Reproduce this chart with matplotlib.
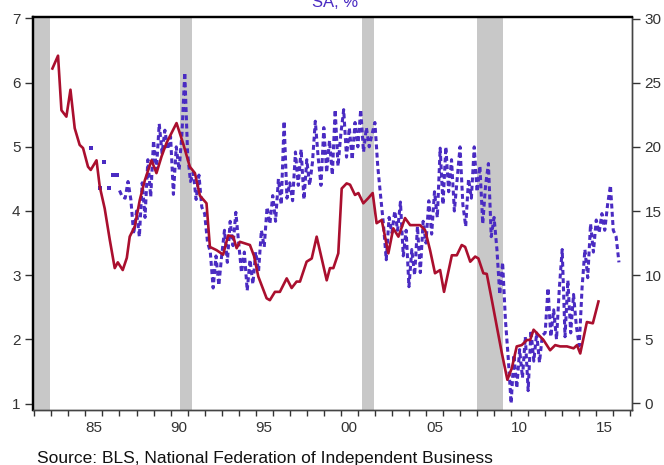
import matplotlib.pyplot as plt
import numpy as np

plt.rcParams['font.family'] = ['Liberation Sans', 'DejaVu Sans']

# recessions (decimal years)
recessions = [(1981.5, 1982.92), (1990.58, 1991.25), (2001.25, 2001.92), (2008.0, 2009.5)]

# BLS series, left axis
red_t = [1983.06, 1983.39, 1983.59, 1983.88, 1984.12, 1984.37, 1984.66, 1984.86,
         1985.15, 1985.31, 1985.65, 1985.84, 1986.13, 1986.43, 1986.72, 1986.90,
         1987.19, 1987.43, 1987.60, 1987.90, 1988.19, 1988.49, 1988.88, 1989.17,
         1989.47, 1989.76, 1990.35, 1990.74, 1991.13, 1991.43, 1991.72, 1992.11,
         1992.31, 1992.70, 1993.09, 1993.38, 1993.68, 1993.88, 1994.07, 1994.66,
         1994.90, 1995.15, 1995.64, 1995.83, 1996.13, 1996.42, 1996.82, 1997.11,
         1997.40, 1997.60, 1997.99, 1998.29, 1998.58, 1999.17, 1999.36, 1999.56,
         1999.85, 2000.05, 2000.34, 2000.54, 2000.83, 2001.03, 2001.32, 2001.61,
         2001.87, 2002.10, 2002.40, 2002.79, 2003.08, 2003.38, 2003.77, 2004.07,
         2004.65, 2004.95, 2005.24, 2005.53, 2005.83, 2006.06, 2006.52, 2006.81,
         2007.10, 2007.30, 2007.60, 2007.89, 2008.08, 2008.37, 2008.57, 2008.87,
         2009.16, 2009.46, 2009.78, 2010.04, 2010.33, 2010.62, 2010.93, 2011.12,
         2011.32, 2011.61, 2011.90, 2012.29, 2012.59, 2012.88, 2013.28, 2013.67,
         2013.87, 2014.06, 2014.45, 2014.80, 2015.13]
red_v = [6.22, 6.42, 5.57, 5.47, 5.89, 5.29, 5.03, 4.98,
         4.69, 4.64, 4.79, 4.38, 4.04, 3.55, 3.11, 3.20,
         3.08, 3.27, 3.60, 3.76, 4.17, 4.48, 4.79, 4.59,
         4.85, 5.06, 5.37, 5.05, 4.69, 4.59, 4.24, 4.12,
         3.44, 3.39, 3.32, 3.62, 3.60, 3.42, 3.52, 3.47,
         3.30, 2.98, 2.64, 2.61, 2.74, 2.74, 2.95, 2.80,
         2.90, 2.90, 3.21, 3.26, 3.60, 2.92, 3.11, 3.11,
         3.34, 4.35, 4.43, 4.41, 4.25, 4.28, 4.12, 4.20,
         4.28, 3.81, 3.86, 3.34, 3.73, 3.60, 3.89, 3.78,
         3.78, 3.70, 3.39, 3.03, 3.08, 2.74, 3.31, 3.31,
         3.47, 3.44, 3.21, 3.29, 3.26, 3.03, 3.02, 2.61,
         2.20, 1.78, 1.37, 1.55, 1.89, 1.91, 1.99, 1.99,
         2.15, 2.07, 1.99, 1.83, 1.91, 1.89, 1.89, 1.86,
         1.91, 1.78, 2.27, 2.25, 2.59]

# NFIB series, right axis: early sparse readings
early_t = [1985.31, 1985.84, 1986.08, 1986.39, 1986.62, 1986.86]
early_v = [19.9, 16.8, 18.8, 16.8, 17.8, 17.8]

# NFIB series, two-monthly readings from 1987
nfib_start = 1987.0
nfib_v = [
    16.6, 16.1, 16.0, 17.3, 15.9, 13.2,   # 87
    15.0, 13.0, 17.2, 14.5, 19.0, 16.1,   # 88
    20.5, 18.2, 21.8, 19.5, 21.3, 19.8,   # 89
    20.8, 16.3, 20.0, 18.2, 21.0, 25.8,   # 90
    19.5, 17.3, 18.0, 15.9, 17.8, 15.3,   # 91
    14.8, 12.6, 11.8, 9.0, 11.5, 9.2,     # 92
    11.5, 13.5, 11.0, 14.2, 12.3, 14.9,   # 93
    12.5, 10.2, 11.8, 8.8, 11.2, 9.3,     # 94
    11.8, 10.3, 13.5, 12.2, 15.3, 14.0,   # 95
    16.2, 14.2, 17.5, 15.5, 22.0, 16.0,   # 96
    17.2, 15.8, 19.6, 17.0, 19.8, 15.9,   # 97
    19.0, 17.0, 18.8, 22.0, 19.2, 17.0,   # 98
    21.5, 18.0, 20.5, 17.8, 22.9, 18.5,   # 99
    21.0, 22.9, 19.2, 21.5, 19.0, 21.9,   # 00
    20.0, 22.9, 19.6, 21.5, 20.0, 21.0,   # 01
    21.9, 18.5, 16.2, 14.0, 11.2, 14.5,   # 02
    13.3, 15.0, 13.5, 15.7, 11.5, 13.5,   # 03
    9.1, 12.0, 10.0, 13.8, 10.2, 14.2,    # 04
    12.5, 15.8, 13.2, 16.5, 14.5, 19.9,   # 05
    15.5, 20.0, 16.5, 19.0, 15.0, 17.5,   # 06
    20.0, 15.5, 13.8, 17.5, 16.0, 20.0,   # 07
    16.5, 18.5, 14.0, 17.0, 18.7, 13.0,   # 08
    14.5, 12.0, 8.5, 11.0, 6.5, 3.5,      # 09
    0.0, 3.8, 1.2, 4.2, 2.0, 5.2,         # 10
    1.0, 5.7, 3.3, 5.5, 3.2, 5.3,         # 11
    5.5, 9.0, 5.2, 7.3, 5.0, 9.0,         # 12
    12.0, 5.2, 9.6, 5.5, 8.5, 6.0,        # 13
    4.5, 9.0, 12.0, 9.8, 14.0, 11.8,      # 14
    14.3, 13.3, 14.8, 13.5, 15.5, 17.0,   # 15
    13.5, 13.0, 11.0,                     # 16
]
nfib_t = nfib_start + np.arange(len(nfib_v)) / 6.0

years = np.arange(1982, 2018)
label_years = [1985, 1990, 1995, 2000, 2005, 2010, 2015]

RED = '#AA0F2E'
BLUE = '#4A2BC2'

fig = plt.figure(figsize=(6.64, 4.65), dpi=100)
ax = fig.add_axes([33 / 664, 1 - 410 / 465, (632 - 33) / 664, (410 - 17) / 465])
ax2 = ax.twinx()

# shading goes on the lower (right-scale) axes so both lines sit above it
for a, b in recessions:
    ax2.axvspan(a, b, color='#C8C8C8', lw=0, zorder=0)

ax.plot(red_t, red_v, color=RED, lw=1.9, zorder=3, solid_joinstyle='round')
ax2.plot(nfib_t, nfib_v, color=BLUE, lw=2.2, ls=(0, (1.6, 1.1)), zorder=2)
ax2.plot(early_t, early_v, color=BLUE, ls='none', marker='s', ms=2.8, mew=0, zorder=2)

ax.set_zorder(ax2.get_zorder() + 1)
ax.patch.set_visible(False)

ax.set_xlim(1981.92, 2017.1)
ax.set_ylim(0.899, 7.023)
ax2.set_ylim(-0.507, 30.12)
ax.set_yticks(range(1, 8))
ax2.set_yticks(range(0, 31, 5))

# labels sit mid-year, tick marks at each January
ax.set_xticks([y + 0.5 for y in label_years])
ax.set_xticklabels(['%02d' % (y % 100) for y in label_years])
ax.set_xticks(years, minor=True)

ax.tick_params(axis='x', which='major', length=0, pad=8, labelsize=11, colors='#333333')
ax.tick_params(axis='x', which='minor', length=4.5, width=1, color='#333333')
ax.tick_params(axis='y', length=6, width=1, pad=3, labelsize=11, colors='#333333')
ax2.tick_params(axis='y', length=6, width=1, pad=3, labelsize=11, colors='#333333')

for a in (ax, ax2):
    a.spines['top'].set_linewidth(1.6)
    a.spines['top'].set_color('black')
    a.spines['left'].set_linewidth(1.6)
    a.spines['left'].set_color('black')
    a.spines['right'].set_linewidth(1.0)
    a.spines['right'].set_color('#444444')
    a.spines['bottom'].set_linewidth(1.0)
    a.spines['bottom'].set_color('#444444')

fig.text(0.505, 1 - 7 / 465, 'SA, %', color=BLUE, fontsize=12, ha='center', va='baseline')
fig.text(37 / 664, 1 - 463 / 465, 'Source: BLS, National Federation of Independent Business',
         fontsize=12.5, color='#111111', ha='left', va='baseline')

fig.savefig('out.png', dpi=100)
